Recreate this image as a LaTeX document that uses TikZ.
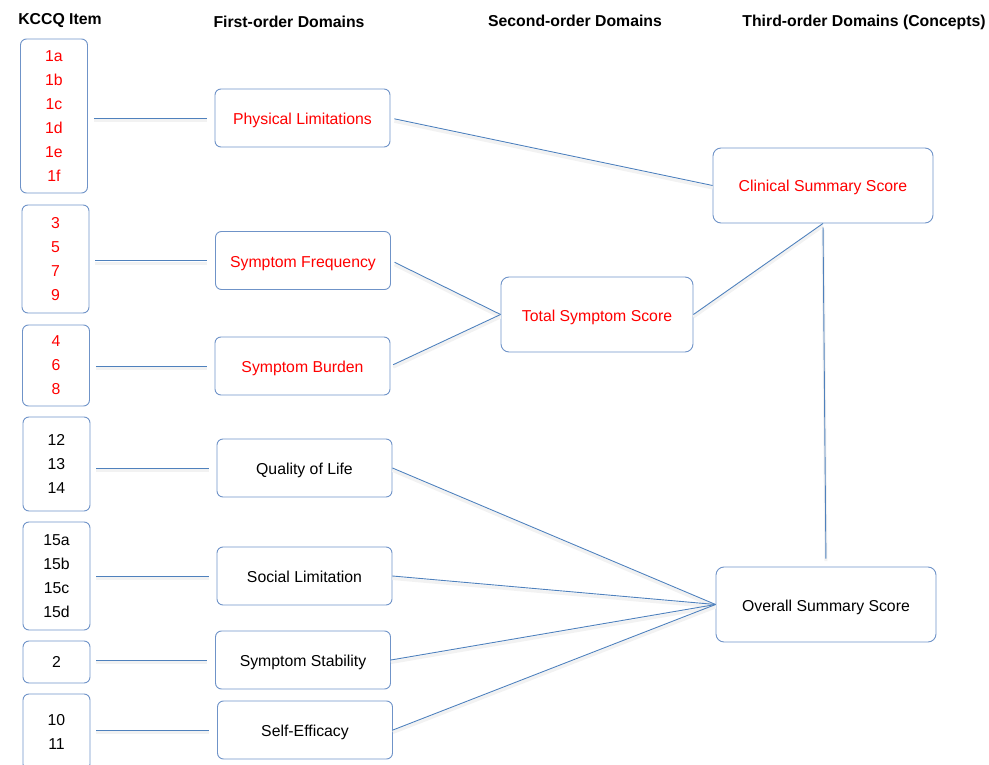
\documentclass[tikz,border=0pt]{standalone}
\usepackage{fontspec}
\setmainfont{Liberation Sans}
\usetikzlibrary{positioning}
\definecolor{cline}{HTML}{4F81BD}
\definecolor{cframe}{HTML}{6F93C8}
\definecolor{cred}{HTML}{FF0000}
\tikzset{
  every picture/.style={font=\fontsize{15.8}{24}\selectfont, line width=0.9pt},
  itembox/.style={draw=cframe, rounded corners=6pt, align=center, minimum width=67pt, inner sep=0pt},
  domainbox/.style={draw=cframe, rounded corners=6pt, align=center, minimum width=175pt, minimum height=58pt,
    text height=13pt, text depth=0pt},
  scorebox/.style={draw=cframe, rounded corners=8pt, align=center, minimum width=220pt, minimum height=75pt,
    text height=13pt, text depth=0pt},
  headtext/.style={font=\bfseries\fontsize{15.8}{18}\selectfont},
  link/.style={draw=cline, line width=0.9pt,
    preaction={draw=black!5, line width=3pt, transform canvas={yshift=-2.5pt}}},
  hot/.style={text=cred},
}

\begin{document}
\begin{tikzpicture}[x=1pt, y=-1pt]
  \clip (0,0) rectangle (989,765);
  % column titles
  \node[headtext] (h1) at (60,21) {KCCQ Item};
  \node[headtext] (h2) at (289,22) {First-order Domains};
  \node[headtext] (h3) at (575,21) {Second-order Domains};
  \node[headtext] (h4) at (864,22) {Third-order Domains (Concepts)};
  % KCCQ items
  \node[itembox, hot, minimum height=154pt] (i1) at (54,116) {1a\\1b\\1c\\1d\\1e\\1f};
  \node[itembox, hot, minimum height=108pt] (i2) at (55.5,259) {3\\5\\7\\9};
  \node[itembox, hot, minimum height=81pt] (i3) at (56,365.5) {4\\6\\8};
  \node[itembox, minimum height=94pt] (i4) at (56.5,464) {12\\13\\14};
  \node[itembox, minimum height=108pt] (i5) at (56.5,576) {15a\\15b\\15c\\15d};
  \node[itembox, minimum height=42pt] (i6) at (56.5,662) {2};
  \node[itembox, minimum height=76pt] (i7) at (56.5,732) {10\\11};
  % first-order domains
  \node[domainbox, hot] (d1) at (302.5,118) {Physical Limitations};
  \node[domainbox, hot] (d2) at (303,260.5) {Symptom Frequency};
  \node[domainbox, hot] (d3) at (302.5,366) {Symptom Burden};
  \node[domainbox] (d4) at (304.5,468) {Quality of Life};
  \node[domainbox] (d5) at (304.5,576) {Social Limitation};
  \node[domainbox] (d6) at (303,660) {Symptom Stability};
  \node[domainbox] (d7) at (305,730) {Self-Efficacy};
  % second and third order
  \node[scorebox, hot, minimum width=192pt] (tss) at (597,314.5) {Total Symptom Score};
  \node[scorebox, hot] (css) at (823,185.5) {Clinical Summary Score};
  \node[scorebox] (oss) at (826,604.5) {Overall Summary Score};
  % items to first-order
  \draw[link, shorten <=6pt, shorten >=8pt] (i1.east |- d1.west) -- (d1.west);
  \draw[link, shorten <=6pt, shorten >=8pt] (i2.east |- d2.west) -- (d2.west);
  \draw[link, shorten <=6pt, shorten >=8pt] (i3.east |- d3.west) -- (d3.west);
  \draw[link, shorten <=6pt, shorten >=8pt] (i4.east |- d4.west) -- (d4.west);
  \draw[link, shorten <=6pt, shorten >=8pt] (i5.east |- d5.west) -- (d5.west);
  \draw[link, shorten <=6pt, shorten >=8pt] (i6.east |- d6.west) -- (d6.west);
  \draw[link, shorten <=6pt, shorten >=8pt] (i7.east |- d7.west) -- (d7.west);
  % higher orders
  \draw[link, shorten <=4pt] (d1.east) -- (css.west);
  \draw[link, shorten <=4pt] (d2.east) -- (tss.west);
  \draw[link, shorten <=3pt] (d3.east) -- (tss.west);
  \draw[link] (tss.east) -- (css.south);
  \draw[link, shorten <=4pt, shorten >=8pt] (css.south) -- (oss.north);
  \draw[link] (d4.east) -- (oss.west);
  \draw[link] (d5.east) -- (oss.west);
  \draw[link] (d6.east) -- (oss.west);
  \draw[link] (d7.east) -- (oss.west);
\end{tikzpicture}
\end{document}
